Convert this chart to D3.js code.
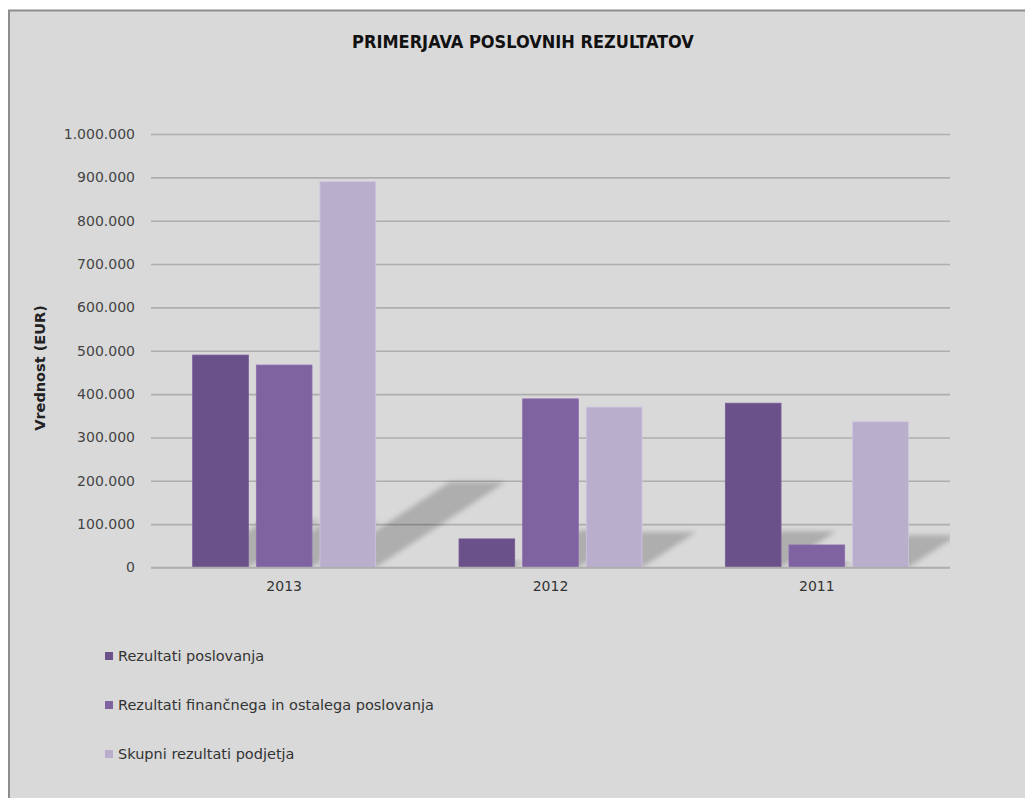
<!DOCTYPE html>
<html>
<head>
<meta charset="utf-8">
<script src="https://cdn.jsdelivr.net/npm/d3@7"></script>
<style>
  body { margin: 0; background: #fff; }
  svg { display: block; }
</style>
</head>
<body>
<div id="canvas"></div>
<script>
var years = ["2013", "2012", "2011"];
var seriesNames = ["Rezultati poslovanja", "Rezultati finančnega in ostalega poslovanja", "Skupni rezultati podjetja"];
var poslovanje = [490000, 66000, 379000];
var financno = [467000, 389000, 52000];
var skupni = [890000, 370000, 336000];
var yTicks = [0, 100000, 200000, 300000, 400000, 500000, 600000, 700000, 800000, 900000, 1000000];
var seriesColors = ["#6b5189", "#7f62a0", "#b9aecb"];

var width = 1025, height = 798;
var plotLeft = 151, plotRight = 950, plotTop = 134, plotBottom = 567.5;
var font = "'DejaVu Sans', sans-serif";

var svg = d3.select("#canvas").append("svg").attr("width", width).attr("height", height);

// frame
svg.append("rect").attr("x", 9).attr("y", 10.5)
    .attr("width", 1030).attr("height", 800)
    .attr("fill", "#d9d9d9")
    .attr("stroke", "#8d8d8d")
    .attr("stroke-width", 2);

var values = [poslovanje, financno, skupni];
var rows = [];
years.forEach(function(yr, i) {
    values.forEach(function(arr, s) {
        rows.push({year: yr, s: s, v: arr[i]});
    });
});

var x = d3.scaleBand().domain(years).range([plotLeft, plotRight]).paddingInner(0.313).paddingOuter(0.1565);
var xs = d3.scaleBand().domain([0, 1, 2]).range([0, x.bandwidth()]).paddingInner(0.125);
var y = d3.scaleLinear().domain([0, 1000000]).range([plotBottom, plotTop]);

var loc = d3.formatLocale({decimal: ",", thousands: ".", grouping: [3], currency: ["", " €"]});
var fmt = loc.format(",");

// title
svg.append("text").attr("x", 523).attr("y", 48)
    .attr("text-anchor", "middle")
    .style("font-family", "'DejaVu Sans Condensed', 'DejaVu Sans', sans-serif")
    .style("font-weight", "bold")
    .style("font-size", "18px")
    .style("fill", "#111")
    .text("PRIMERJAVA POSLOVNIH REZULTATOV");

// grid + y axis
var yAxis = svg.append("g").attr("transform", "translate(" + plotLeft + ",0)")
    .call(d3.axisLeft(y).tickValues(yTicks).tickSize(-(plotRight - plotLeft)).tickPadding(16).tickFormat(fmt));
yAxis.select(".domain").remove();
yAxis.selectAll(".tick line").attr("stroke", "#aeaeae").attr("stroke-width", 1.6);
yAxis.selectAll(".tick text")
    .style("font-family", font).style("font-size", "14px").style("fill", "#444");

// shadows (perspective, clipped to plot)
var defs = svg.append("defs");
defs.append("clipPath").attr("id", "plotclip").append("rect")
    .attr("x", plotLeft).attr("y", plotTop - 20).attr("width", plotRight - plotLeft).attr("height", plotBottom - plotTop + 20);
defs.append("filter").attr("id", "blur").attr("x", "-20%").attr("y", "-20%").attr("width", "140%").attr("height", "140%")
    .append("feGaussianBlur").attr("stdDeviation", 2.6);

svg.append("g").attr("clip-path", "url(#plotclip)")
    .selectAll("polygon").data(rows).enter().append("polygon")
    .attr("points", function(d) {
        var x0 = x(d.year) + xs(d.s), x1 = x0 + xs.bandwidth();
        var h = plotBottom - y(d.v);
        var dy = h * 0.222, dx = h * 0.337;
        return [[x0, plotBottom], [x1, plotBottom], [x1 + dx, plotBottom - dy], [x0 + dx, plotBottom - dy]].join(" ");
    })
    .attr("fill", "#000")
    .attr("fill-opacity", 0.2)
    .attr("filter", "url(#blur)");

// bars
svg.append("g").selectAll("rect").data(rows).enter().append("rect")
    .attr("x", function(d) { return x(d.year) + xs(d.s); })
    .attr("y", function(d) { return y(d.v); })
    .attr("width", xs.bandwidth())
    .attr("height", function(d) { return plotBottom - y(d.v); })
    .attr("fill", function(d) { return seriesColors[d.s]; })
    .attr("stroke", function(d) { return d3.color(seriesColors[d.s]).brighter(0.3); })
    .attr("stroke-width", 0.8);

// x axis
var xAxis = svg.append("g").attr("transform", "translate(0," + plotBottom + ")")
    .call(d3.axisBottom(x).tickSize(0).tickPadding(14));
xAxis.select(".domain").attr("stroke", "#aeaeae").attr("stroke-width", 1.6)
    .attr("d", "M" + plotLeft + ",0H" + plotRight);
xAxis.selectAll(".tick text")
    .style("font-family", font).style("font-size", "14px").style("fill", "#333");

// y title
svg.append("text")
    .attr("transform", "translate(45,368) rotate(-90)")
    .attr("text-anchor", "middle")
    .style("font-family", font).style("font-weight", "bold").style("font-size", "14.5px").style("fill", "#222")
    .text("Vrednost (EUR)");

// legend
var legend = svg.append("g").selectAll("g").data(seriesNames).enter().append("g")
    .attr("transform", function(d, i) { return "translate(105," + (652 + i * 49) + ")"; });
legend.append("rect").attr("width", 8).attr("height", 8)
    .attr("fill", function(d, i) { return seriesColors[i]; });
legend.append("text").attr("x", 13).attr("y", 9)
    .style("font-family", font).style("font-size", "14.5px").style("fill", "#333")
    .text(function(d) { return d; });
</script>
</body>
</html>
